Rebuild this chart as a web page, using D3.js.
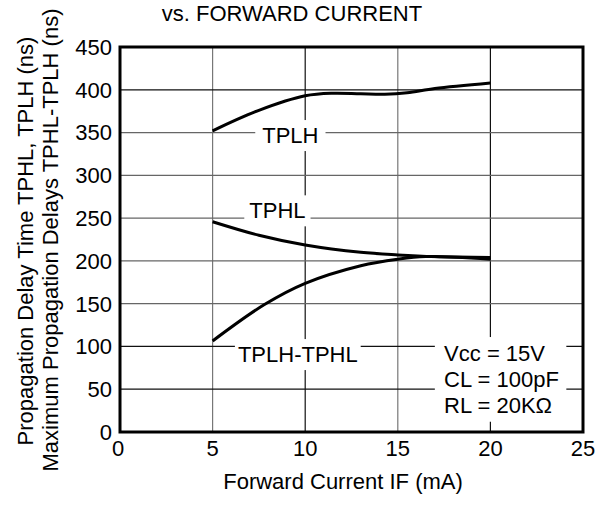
<!DOCTYPE html>
<html>
<head>
<meta charset="utf-8">
<script src="https://cdn.jsdelivr.net/npm/d3@7"></script>
<style>
  body { margin: 0; background: #fff; }
  text { font-family: "Liberation Sans", Arial, sans-serif; fill: #000; }
</style>
</head>
<body>
<svg class="chart"></svg>
<script>
// values
var tplhIF = [5, 7.5, 10, 11.5, 13, 14.3, 15.5, 17, 20];
var tplh   = [352, 376, 393, 396, 395.3, 394.8, 396.5, 401.5, 408];
var tphlIF = [5, 7.5, 10, 13, 15, 17, 20];
var tphl   = [245.8, 230, 218.6, 210, 207, 205, 204];
var diffIF = [5, 7.8, 10, 13, 15, 16.5, 20];
var diff   = [106.4, 149, 173.8, 194.4, 202, 205, 202];

var xTicks = [0, 5, 10, 15, 20, 25];
var yTicks = [0, 50, 100, 150, 200, 250, 300, 350, 400, 450];
var conditions = ["Vcc = 15V", "CL = 100pF", "RL = 20K\u03A9"];

var margin = {top: 47, right: 28, bottom: 75, left: 120},
    width = 611 - margin.left - margin.right,
    height = 507 - margin.top - margin.bottom;

var svg = d3.select(".chart")
    .attr("width", 611)
    .attr("height", 507);

var chart = svg.append("g")
    .attr("transform", "translate(" + margin.left + "," + margin.top + ")");

var x = d3.scaleLinear().domain([0, 25]).range([0, width]);
var y = d3.scaleLinear().domain([0, 450]).range([height, 0]);

// grid
chart.append("g").selectAll("line")
    .data(xTicks.slice(1, -1))
  .enter().append("line")
    .attr("x1", d => x(d)).attr("x2", d => x(d))
    .attr("y1", 0).attr("y2", height)
    .attr("stroke", (d, i) => i % 2 ? "#111" : "#777")
    .attr("stroke-width", 1.2);

chart.append("g").selectAll("line")
    .data(yTicks.slice(1, -1))
  .enter().append("line")
    .attr("x1", 0).attr("x2", width)
    .attr("y1", d => y(d)).attr("y2", d => y(d))
    .attr("stroke", d => (d <= 100 || d == 400) ? "#111" : "#666")
    .attr("stroke-width", 1.2);

// curves
var line = d3.line()
    .x(d => x(d[0]))
    .y(d => y(d[1]))
    .curve(d3.curveCatmullRom.alpha(0.5));

[[tplhIF, tplh], [tphlIF, tphl], [diffIF, diff]].forEach(function(s) {
  chart.append("path")
      .datum(d3.zip(s[0], s[1]))
      .attr("d", line)
      .attr("fill", "none")
      .attr("stroke", "#000")
      .attr("stroke-width", 3);
});

// curve labels on white patches
function label(txt, cx, cy, padX, padY) {
  var g = chart.append("g");
  var t = g.append("text")
      .attr("x", x(cx)).attr("y", y(cy))
      .attr("dy", "0.36em")
      .attr("text-anchor", "middle")
      .style("font-size", "22px")
      .text(txt);
  var b = t.node().getBBox();
  g.insert("rect", "text")
      .attr("x", b.x - padX).attr("y", b.y - padY)
      .attr("width", b.width + 2 * padX).attr("height", b.height + 2 * padY)
      .attr("fill", "#fff");
}
label("TPLH", 9.2, 347, 7, 3);
label("TPHL", 8.5, 259, 5, 3);
label("TPLH-TPHL", 9.6, 91, 3, 3);

// test conditions
var cond = chart.append("g");
cond.append("rect")
    .attr("x", x(17.0)).attr("y", y(111))
    .attr("width", x(24.1) - x(17.0)).attr("height", y(12) - y(111))
    .attr("fill", "#fff");
cond.selectAll("text")
    .data(conditions)
  .enter().append("text")
    .attr("x", x(17.5))
    .attr("y", (d, i) => y(92 - i * 30.2))
    .attr("dy", "0.36em")
    .style("font-size", "22px")
    .text(d => d);

// frame
chart.append("rect")
    .attr("width", width).attr("height", height)
    .attr("fill", "none").attr("stroke", "#000").attr("stroke-width", 3);

// tick labels
chart.append("g").selectAll("text")
    .data(yTicks)
  .enter().append("text")
    .attr("x", -8).attr("y", d => y(d))
    .attr("dy", "0.36em")
    .attr("text-anchor", "end")
    .style("font-size", "22px")
    .text(d => d);

chart.append("g").selectAll("text")
    .data(xTicks)
  .enter().append("text")
    .attr("x", d => x(d) - (d == 0 ? 2 : 0)).attr("y", height + 24)
    .attr("text-anchor", "middle")
    .style("font-size", "22px")
    .text(d => d);

// titles
svg.append("text")
    .attr("x", 292).attr("y", 21)
    .attr("text-anchor", "middle")
    .style("font-size", "22px")
    .text("vs. FORWARD CURRENT");

svg.append("text")
    .attr("x", 343).attr("y", 489)
    .attr("text-anchor", "middle")
    .style("font-size", "22px")
    .text("Forward Current IF (mA)");

svg.append("text")
    .attr("transform", "translate(33,241) rotate(-90)")
    .attr("text-anchor", "middle")
    .style("font-size", "22px")
    .text("Propagation Delay Time TPHL, TPLH (ns)");

svg.append("text")
    .attr("transform", "translate(58,240) rotate(-90)")
    .attr("text-anchor", "middle")
    .style("font-size", "22px")
    .text("Maximum Propagation Delays TPHL-TPLH (ns)");
</script>
</body>
</html>
